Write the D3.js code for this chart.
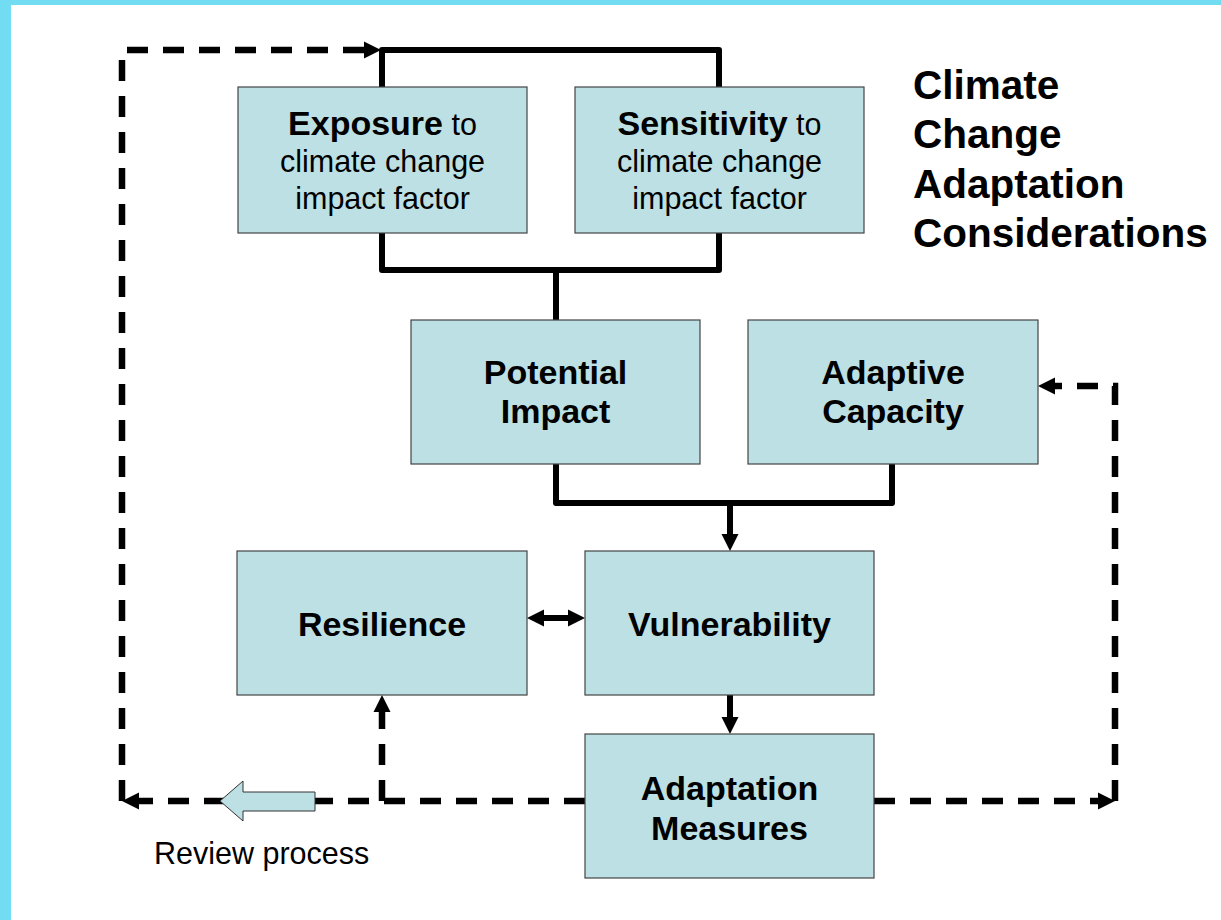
<!DOCTYPE html>
<html>
<head>
<meta charset="utf-8">
<script src="https://cdn.jsdelivr.net/npm/d3@7/dist/d3.min.js"></script>
<style>
  html, body { margin: 0; padding: 0; background: #72DCF2; }
  svg { display: block; }
</style>
</head>
<body>
<svg id="chart" width="1221" height="920"></svg>
<script>
// ---- Content (text) ----
const titleLines = ["Climate", "Change", "Adaptation", "Considerations"];
const nodeIds = ["exposure", "sensitivity", "potential", "adaptive", "resilience", "vulnerability", "measures"];
// each line is a list of [text, bold] runs
const nodeLines = [
  [[["Exposure", true], [" to", false]], [["climate change", false]], [["impact factor", false]]],
  [[["Sensitivity", true], [" to", false]], [["climate change", false]], [["impact factor", false]]],
  [[["Potential", true]], [["Impact", true]]],
  [[["Adaptive", true]], [["Capacity", true]]],
  [[["Resilience", true]]],
  [[["Vulnerability", true]]],
  [[["Adaptation", true]], [["Measures", true]]]
];
const reviewLabel = "Review process";

// ---- Layout (positions / sizes) ----
const nodeLayout = {
  exposure:      { x: 238, y: 87,  w: 289, h: 146, base: 135, lh: 37 },
  sensitivity:   { x: 575, y: 87,  w: 289, h: 146, base: 135, lh: 37 },
  potential:     { x: 411, y: 320, w: 289, h: 144, base: 384, lh: 39 },
  adaptive:      { x: 748, y: 320, w: 290, h: 144, base: 384, lh: 39 },
  resilience:    { x: 237, y: 551, w: 290, h: 144, base: 636, lh: 39 },
  vulnerability: { x: 585, y: 551, w: 289, h: 144, base: 636, lh: 39 },
  measures:      { x: 585, y: 734, w: 289, h: 144, base: 800, lh: 40 }
};

// connectors: [points, dashed, arrowStart, arrowEnd]
const connectors = [
  [[[382, 87], [382, 50], [719, 50], [719, 87]], false, false, false],
  [[[382, 233], [382, 270], [719, 270], [719, 233]], false, false, false],
  [[[556, 270], [556, 320]], false, false, false],
  [[[556, 464], [556, 503], [892, 503], [892, 464]], false, false, false],
  [[[730, 503], [730, 551]], false, false, true],
  [[[527, 618], [585, 618]], false, true, true],
  [[[730, 695], [730, 734]], false, false, true],
  [[[585, 801], [122, 801]], true, false, true],
  [[[122, 801], [122, 50], [381, 50]], true, false, true],
  [[[382, 801], [382, 695]], true, false, true],
  [[[874, 801], [1115, 801]], true, false, true],
  [[[1115, 801], [1115, 386], [1038, 386]], true, false, true]
];

const svg = d3.select("#chart");
const W = 1221, H = 920;

svg.append("rect").attr("x", 0).attr("y", 0).attr("width", W).attr("height", H).attr("fill", "#72DCF2");
svg.append("rect").attr("x", 11).attr("y", 5).attr("width", W - 11).attr("height", H - 5).attr("fill", "#ffffff");

const FONT = "'Liberation Sans', Arial, Helvetica, sans-serif";
const BOX_FILL = "#BCE0E4";

const gLines = svg.append("g");
const HEAD_L = 17, HEAD_W = 17;

function shorten(p0, p1, d) {
  const dx = p1[0] - p0[0], dy = p1[1] - p0[1];
  const len = Math.hypot(dx, dy);
  return [p1[0] - dx / len * d, p1[1] - dy / len * d];
}
function head(tip, from) {
  const dx = tip[0] - from[0], dy = tip[1] - from[1];
  const len = Math.hypot(dx, dy);
  const ux = dx / len, uy = dy / len;
  const bx = tip[0] - ux * HEAD_L, by = tip[1] - uy * HEAD_L;
  const px = -uy * HEAD_W / 2, py = ux * HEAD_W / 2;
  return `M${tip[0]},${tip[1]}L${bx + px},${by + py}L${bx - px},${by - py}Z`;
}

const line = d3.line();
connectors.forEach(([pts, dashed, aStart, aEnd]) => {
  const p = pts.map(d => d.slice());
  if (aEnd) p[p.length - 1] = shorten(p[p.length - 2], p[p.length - 1], HEAD_L - 3);
  if (aStart) p[0] = shorten(p[1], p[0], HEAD_L - 3);
  gLines.append("path")
    .attr("d", line(p))
    .attr("fill", "none")
    .attr("stroke", "#000")
    .attr("stroke-width", dashed ? 6.5 : 6)
    .attr("stroke-linejoin", dashed ? "miter" : "round")
    .attr("stroke-linecap", dashed ? "butt" : "round")
    .attr("stroke-dasharray", dashed ? "21,15" : null);
  if (aEnd) gLines.append("path").attr("d", head(pts[pts.length - 1], pts[pts.length - 2])).attr("fill", "#000");
  if (aStart) gLines.append("path").attr("d", head(pts[0], pts[1])).attr("fill", "#000");
});

const blockArrow = [[220, 801], [243, 781], [243, 792], [315, 792], [315, 811], [243, 811], [243, 821]];
svg.append("path")
  .attr("d", d3.line()(blockArrow) + "Z")
  .attr("fill", BOX_FILL)
  .attr("stroke", "#333")
  .attr("stroke-width", 1);

svg.append("text")
  .attr("x", 154).attr("y", 864)
  .attr("font-family", FONT).attr("font-size", 30.5)
  .attr("fill", "#000")
  .text(reviewLabel);

const nodes = nodeIds.map((id, i) => ({ id, lines: nodeLines[i], ...nodeLayout[id] }));
const gNodes = svg.selectAll("g.node").data(nodes).join("g").attr("class", "node");
gNodes.append("rect")
  .attr("x", d => d.x).attr("y", d => d.y)
  .attr("width", d => d.w).attr("height", d => d.h)
  .attr("fill", BOX_FILL)
  .attr("stroke", "#444").attr("stroke-width", 1.2);

gNodes.each(function (d) {
  const g = d3.select(this);
  d.lines.forEach((runs, li) => {
    const t = g.append("text")
      .attr("x", d.x + d.w / 2)
      .attr("y", d.base + li * d.lh)
      .attr("text-anchor", "middle")
      .attr("font-family", FONT)
      .attr("fill", "#000");
    runs.forEach(([txt, bold]) => {
      t.append("tspan")
        .attr("font-weight", bold ? "bold" : "normal")
        .attr("font-size", bold ? 34 : 30.5)
        .text(txt);
    });
  });
});

const title = svg.append("text")
  .attr("font-family", FONT).attr("font-size", 40.5).attr("font-weight", "bold").attr("fill", "#000");
titleLines.forEach((t, i) => {
  title.append("tspan").attr("x", 913).attr("y", 99 + i * 49.3).text(t);
});
</script>
</body>
</html>
